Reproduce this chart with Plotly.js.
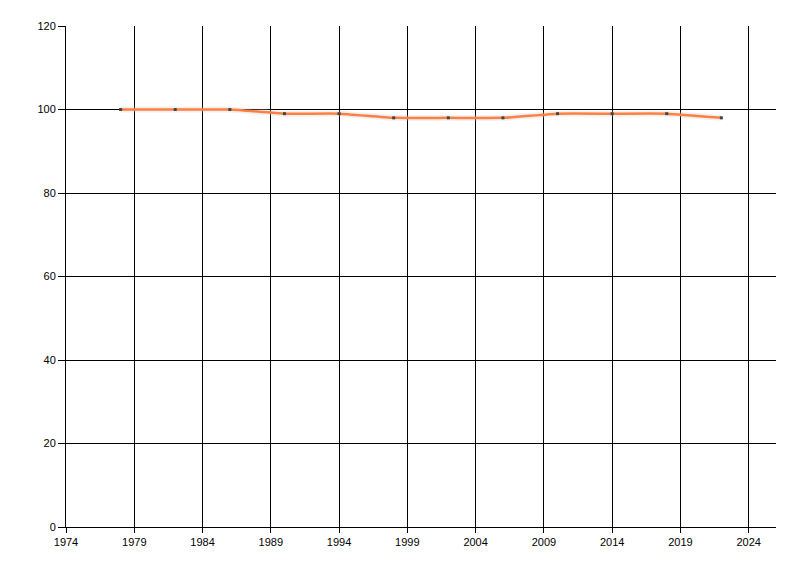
<!DOCTYPE html>
<html>
<head>
<meta charset="utf-8">
<script src="https://cdn.plot.ly/plotly-3.0.1.min.js"></script>
<style>html,body{margin:0;padding:0;background:#fff;}#chart{width:800px;height:576px;}</style>
</head>
<body>
<div id="chart"></div>
<script>
const years = [1978, 1982, 1986, 1990, 1994, 1998, 2002, 2006, 2010, 2014, 2018, 2022];
const values = [100, 100, 100, 99, 99, 98, 98, 98, 99, 99, 99, 98];
const xTickStart = 1974;
const xTickStep = 5;
const yTickStep = 20;

const traces = [
  {
    x: years, y: values, type: 'scatter', mode: 'lines',
    line: {color: 'rgba(200,200,200,0.25)', width: 6, shape: 'spline', smoothing: 0.4},
    hoverinfo: 'skip', showlegend: false
  },
  {
    x: years, y: values, type: 'scatter', mode: 'lines+markers',
    line: {color: '#FF8040', width: 2.5, shape: 'spline', smoothing: 0.4},
    marker: {color: '#444444', size: 3, symbol: 'square'},
    showlegend: false
  }
];

const axisFont = {family: 'Liberation Sans, Arial, sans-serif', size: 11, color: '#000'};

const layout = {
  width: 800, height: 576,
  margin: {l: 66, r: 24, t: 26, b: 49},
  paper_bgcolor: '#fff', plot_bgcolor: '#fff',
  showlegend: false,
  xaxis: {
    range: [1974, 2026], tick0: xTickStart, dtick: xTickStep, tickmode: 'linear',
    showgrid: true, gridcolor: '#000', gridwidth: 1,
    showline: true, linecolor: '#000', linewidth: 1,
    ticks: 'outside', ticklen: 5, tickcolor: '#000', tickwidth: 1,
    tickfont: axisFont, zeroline: false, fixedrange: true
  },
  yaxis: {
    range: [0, 120], tick0: 0, dtick: yTickStep, tickmode: 'linear',
    showgrid: true, gridcolor: '#000', gridwidth: 1,
    showline: true, linecolor: '#000', linewidth: 1,
    ticks: 'outside', ticklen: 7, tickcolor: '#000', tickwidth: 1,
    tickfont: axisFont, zeroline: false, fixedrange: true
  }
};

Plotly.newPlot('chart', traces, layout, {displayModeBar: false, staticPlot: true});
</script>
</body>
</html>
